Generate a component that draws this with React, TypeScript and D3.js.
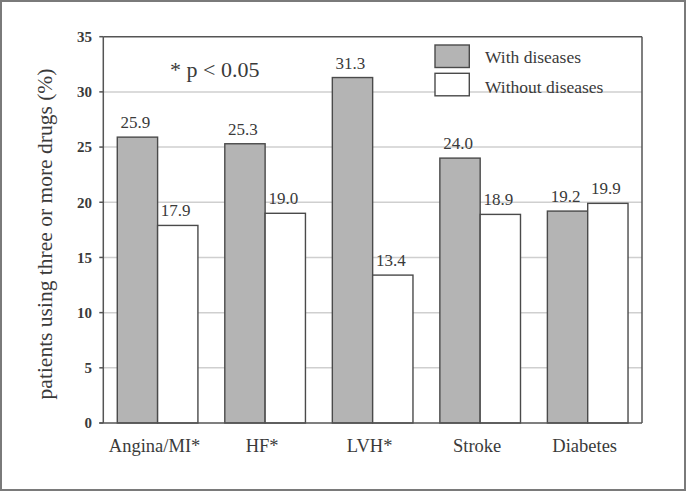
import React from "react";
import * as d3 from "d3";

const categories = ["Angina/MI*", "HF*", "LVH*", "Stroke", "Diabetes"];
const withDiseases = [25.9, 25.3, 31.3, 24.0, 19.2];
const withoutDiseases = [17.9, 19.0, 13.4, 18.9, 19.9];
const seriesNames = ["With diseases", "Without diseases"];
const yTicks = [0, 5, 10, 15, 20, 25, 30, 35];

const W = 686;
const H = 491;
const left = 103.3;
const right = 642;
const top = 36.7;
const bottom = 423;
const font = "'Liberation Serif', 'DejaVu Serif', serif";
const ink = "#3a3a3a";

export default function App() {
  const y = d3.scaleLinear().domain([0, 35]).range([bottom, top]);
  const x0 = d3
    .scaleBand<string>()
    .domain(categories)
    .range([left, right])
    .paddingInner(0.25)
    .paddingOuter(0.13);
  const x1 = d3.scaleBand<number>().domain([0, 1]).range([0, x0.bandwidth()]);
  const series = [withDiseases, withoutDiseases];
  const fills = ["#b4b4b4", "#ffffff"];

  return (
    <svg
      width={W}
      height={H}
      style={{ position: "absolute", left: 0, top: 0, background: "#fff", fontFamily: font }}
    >
      <rect x={1} y={1} width={W - 2} height={H - 2} fill="#fff" stroke="#7a7a7a" strokeWidth={2} />
      {yTicks.slice(1, -1).map((t) => (
        <line key={"g" + t} x1={left} x2={right} y1={y(t)} y2={y(t)} stroke="#cfcfcf" strokeWidth={1.5} />
      ))}
      <line x1={left} x2={right} y1={top} y2={top} stroke="#555" strokeWidth={1.5} />
      <line x1={right} x2={right} y1={top} y2={bottom} stroke="#555" strokeWidth={1.5} />
      {categories.map((c, i) => (
        <g key={c} transform={`translate(${x0(c)},0)`}>
          {series.map((s, j) => (
            <rect
              key={j}
              x={x1(j)}
              y={y(s[i])}
              width={x1.bandwidth()}
              height={bottom - y(s[i])}
              fill={fills[j]}
              stroke="#4a4a4a"
              strokeWidth={1.4}
            />
          ))}
          {series.map((s, j) => (
            <text
              key={"t" + j}
              x={(x1(j) as number) + x1.bandwidth() / 2 - 2}
              y={y(s[i]) - 9}
              textAnchor="middle"
              fontSize={17}
              fill={ink}
              fontFamily={font}
            >
              {s[i].toFixed(1)}
            </text>
          ))}
          <text
            x={x0.bandwidth() / 2 - 3}
            y={452}
            textAnchor="middle"
            fontSize={18.5}
            fill={ink}
            fontFamily={font}
          >
            {c}
          </text>
        </g>
      ))}
      <line x1={left} x2={left} y1={top} y2={bottom} stroke="#555" strokeWidth={1.5} />
      <line x1={left - 4} x2={right} y1={bottom} y2={bottom} stroke="#555" strokeWidth={1.5} />
      {yTicks.map((t) => (
        <g key={"t" + t}>
          <line x1={left - 4} x2={left} y1={y(t)} y2={y(t)} stroke="#555" strokeWidth={1.5} />
          <text
            x={92}
            y={y(t)}
            dy="0.35em"
            textAnchor="end"
            fontSize={15}
            fontWeight="bold"
            fill={ink}
            fontFamily={font}
          >
            {t}
          </text>
        </g>
      ))}
      <text
        transform={`translate(52,234) rotate(-90)`}
        textAnchor="middle"
        fontSize={21.5}
        fill={ink}
        fontFamily={font}
      >
        patients using three or more drugs (%)
      </text>
      <text x={170} y={77} fontSize={22} fill={ink} fontFamily={font}>
        * p &lt; 0.05
      </text>
      {seriesNames.map((n, j) => (
        <g key={n}>
          <rect
            x={435}
            y={45 + j * 28.3}
            width={34.3}
            height={22.5}
            fill={fills[j]}
            stroke="#4a4a4a"
            strokeWidth={1.4}
          />
          <text x={485} y={63 + j * 29.5} fontSize={17.5} fill={ink} fontFamily={font}>
            {n}
          </text>
        </g>
      ))}
    </svg>
  );
}
